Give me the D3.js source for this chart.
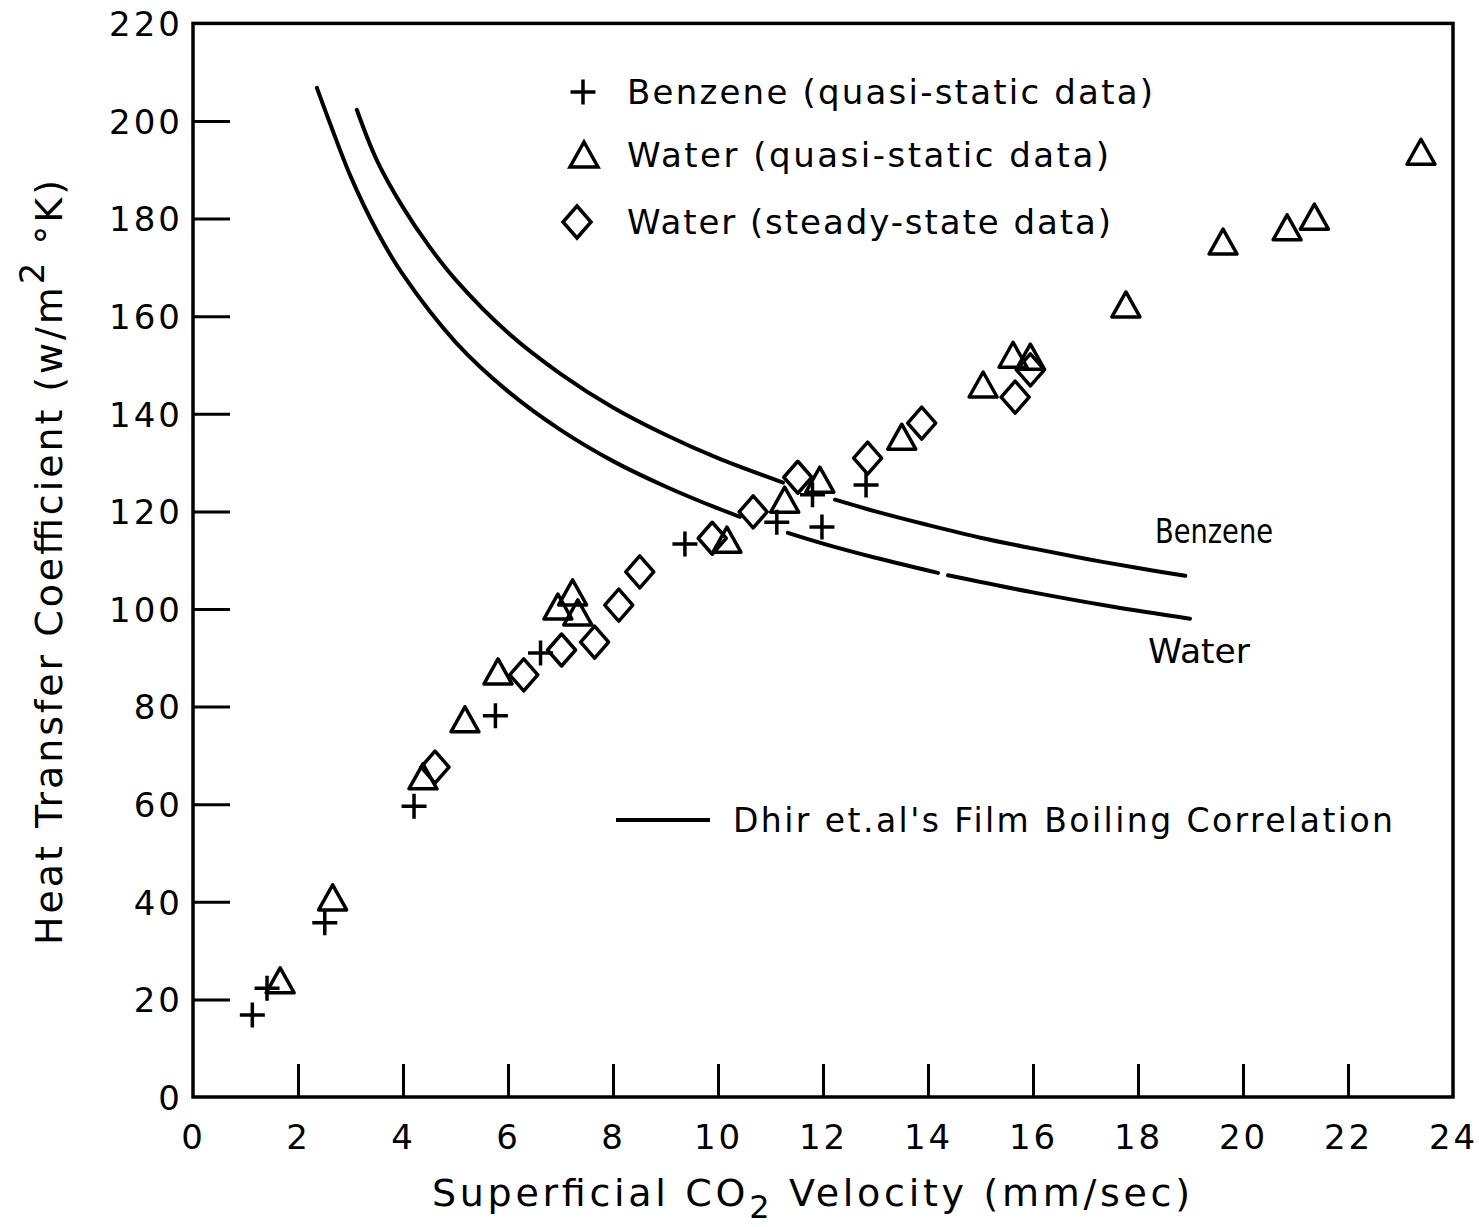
<!DOCTYPE html>
<html>
<head>
<meta charset="utf-8">
<script src="https://cdn.jsdelivr.net/npm/d3@7"></script>
<style>
  body { margin: 0; background: #fff; }
  svg { display: block; }
  text { font-family: "DejaVu Sans", sans-serif; fill: #000; }
</style>
</head>
<body>
<svg id="chart" width="1479" height="1227"></svg>
<script>
// Axis ticks
const xTicks = [0, 2, 4, 6, 8, 10, 12, 14, 16, 18, 20, 22, 24];
const yTicks = [0, 20, 40, 60, 80, 100, 120, 140, 160, 180, 200, 220];

// Benzene, quasi-static data: [velocity mm/s, h W/m2K]
const benzeneQuasi = [
  [1.13, 16.8], [1.41, 22.3], [2.51, 35.7], [4.21, 59.6], [5.76, 78.1],
  [6.62, 91.0], [9.37, 113.3], [11.12, 117.8], [11.80, 123.4], [11.98, 116.8],
  [12.82, 125.4]
];

// Water, quasi-static data
const waterQuasi = [
  [1.66, 23.8], [2.66, 40.8], [4.38, 65.6], [5.18, 77.3], [5.81, 87.1],
  [6.95, 100.4], [7.23, 103.3], [7.33, 99.2], [10.17, 114.1], [11.27, 122.3],
  [11.94, 126.4], [13.50, 135.2], [15.05, 145.9], [15.62, 152.0], [15.95, 151.6],
  [17.77, 162.3], [19.62, 175.2], [20.84, 178.1], [21.36, 180.3], [23.39, 193.6]
];

// Water, steady-state data
const waterSteady = [
  [4.61, 67.6], [6.30, 86.5], [7.02, 91.6], [7.65, 93.2], [8.11, 100.8],
  [8.51, 107.6], [9.89, 114.5], [10.67, 119.9], [11.52, 127.0], [12.85, 130.9],
  [13.88, 138.1], [15.66, 143.4], [15.95, 149.0]
];

// Dhir et al. film boiling correlation (null = pen lifted)
const benzeneCorrelation = [
  [3.12, 202.3], [3.5, 192.0], [4.0, 182.3], [4.5, 174.3], [5.0, 167.5],
  [6.0, 156.6], [7.0, 148.2], [8.0, 141.3], [9.0, 135.7], [10.0, 130.9],
  [11.24, 125.9], null,
  [12.23, 122.4], [13.0, 120.0], [14.0, 117.2], [15.0, 114.6], [16.0, 112.4],
  [17.0, 110.3], [18.0, 108.4], [18.90, 106.8]
];
const waterCorrelation = [
  [2.36, 206.8], [2.6, 199.8], [3.0, 188.7], [3.5, 177.5], [4.0, 168.5],
  [5.0, 154.7], [6.0, 144.6], [7.0, 136.7], [8.0, 130.3], [9.0, 125.1],
  [10.0, 120.6], [10.42, 118.9], null,
  [11.33, 115.6], [12.0, 113.4], [13.0, 110.5], [14.19, 107.4], null,
  [14.38, 106.9], [16.0, 103.4], [17.5, 100.5], [18.99, 98.0]
];

const svg = d3.select("#chart");
const x = d3.scaleLinear().domain([0, 24]).range([193, 1453]);
const y = d3.scaleLinear().domain([0, 220]).range([1097, 23.4]);

// Marker shapes
const markers = {
  plus: s => `M${-s},0H${s}M0,${-s}V${s}`,
  triangle: () => "M0,-13L14,12L-14,12Z",
  diamond: () => "M0,-16L14,0L0,16L-14,0Z"
};

// Frame
svg.append("rect")
  .attr("x", x(0)).attr("y", y(220))
  .attr("width", x(24) - x(0)).attr("height", y(0) - y(220))
  .attr("fill", "none").attr("stroke", "#000").attr("stroke-width", 3.5);

// Y axis (ticks point inward)
const yAxis = svg.append("g")
  .attr("transform", `translate(${x(0)},0)`)
  .call(d3.axisLeft(y).tickValues(yTicks).tickSize(-37).tickPadding(10).tickFormat(d3.format("d")));
yAxis.select(".domain").remove();
yAxis.selectAll(".tick line").attr("stroke", "#000").attr("stroke-width", 3)
  .filter(d => d === 0 || d === 220).remove();
yAxis.selectAll(".tick text").attr("font-size", 34).attr("dy", "0.36em")
  .attr("letter-spacing", 3).attr("fill", "#000");

// X axis (ticks point upward into the plot)
const xAxis = svg.append("g")
  .attr("transform", `translate(0,${y(0)})`)
  .call(d3.axisBottom(x).tickValues(xTicks).tickSize(-33).tickPadding(52).tickFormat(d3.format("d")));
xAxis.select(".domain").remove();
xAxis.selectAll(".tick line").attr("stroke", "#000").attr("stroke-width", 3)
  .filter(d => d === 0 || d === 24).remove();
xAxis.selectAll(".tick text").attr("font-size", 34).attr("dy", "0")
  .attr("letter-spacing", 3).attr("fill", "#000");

// Correlation curves
const line = d3.line().defined(d => d !== null).x(d => x(d[0])).y(d => y(d[1])).curve(d3.curveCatmullRom);
[benzeneCorrelation, waterCorrelation].forEach(c => {
  svg.append("path").attr("d", line(c)).attr("fill", "none")
    .attr("stroke", "#000").attr("stroke-width", 4).attr("stroke-linecap", "round");
});

// Data points
function drawSeries(data, shape) {
  svg.append("g").selectAll("path").data(data).join("path")
    .attr("transform", d => `translate(${x(d[0])},${y(d[1])})`)
    .attr("d", shape === "plus" ? markers.plus(12.5) : markers[shape]())
    .attr("fill", "none").attr("stroke", "#000").attr("stroke-width", 3.5)
    .attr("stroke-linejoin", "round");
}
drawSeries(benzeneQuasi, "plus");
drawSeries(waterQuasi, "triangle");
drawSeries(waterSteady, "diamond");

// Legend
const legendRows = [
  { shape: "plus", label: "Benzene (quasi-static data)", mx: 583, my: 92, len: 526 },
  { shape: "triangle", label: "Water (quasi-static data)", mx: 584, my: 155, len: 482 },
  { shape: "diamond", label: "Water (steady-state data)", mx: 577, my: 222, len: 484 }
];
legendRows.forEach(r => {
  svg.append("path").attr("transform", `translate(${r.mx},${r.my})`)
    .attr("d", r.shape === "plus" ? markers.plus(12.5) : markers[r.shape]())
    .attr("fill", "none").attr("stroke", "#000").attr("stroke-width", 3.5);
  svg.append("text").attr("x", 627).attr("y", r.my + 12)
    .attr("font-size", 34).attr("textLength", r.len).attr("lengthAdjust", "spacing")
    .text(r.label);
});

// Curve labels
svg.append("text").attr("x", 1155).attr("y", 543).attr("font-size", 34)
  .attr("textLength", 118).attr("lengthAdjust", "spacingAndGlyphs").text("Benzene");
svg.append("text").attr("x", 1148).attr("y", 663).attr("font-size", 34)
  .attr("textLength", 102).attr("lengthAdjust", "spacingAndGlyphs").text("Water");

// Correlation legend
svg.append("line").attr("x1", 616).attr("x2", 710).attr("y1", 820).attr("y2", 820)
  .attr("stroke", "#000").attr("stroke-width", 4);
svg.append("text").attr("x", 733).attr("y", 832).attr("font-size", 33)
  .attr("textLength", 660).attr("lengthAdjust", "spacing")
  .text("Dhir et.al's Film Boiling Correlation");

// X axis title with subscript
const xt = svg.append("text").attr("x", 432).attr("y", 1206).attr("font-size", 38)
  .attr("textLength", 758).attr("lengthAdjust", "spacing");
xt.append("tspan").text("Superficial CO");
xt.append("tspan").attr("dy", 12).attr("font-size", 32).text("2");
xt.append("tspan").attr("dy", -12).text(" Velocity (mm/sec)");

// Y axis title with superscript
const yt = svg.append("text").attr("transform", "translate(62,945) rotate(-90)")
  .attr("font-size", 38).attr("textLength", 765).attr("lengthAdjust", "spacing");
yt.append("tspan").text("Heat Transfer Coefficient (w/m");
yt.append("tspan").attr("dy", -18).attr("font-size", 34).text("2");
yt.append("tspan").attr("dy", 18).text(" °K)");
</script>
</body>
</html>
